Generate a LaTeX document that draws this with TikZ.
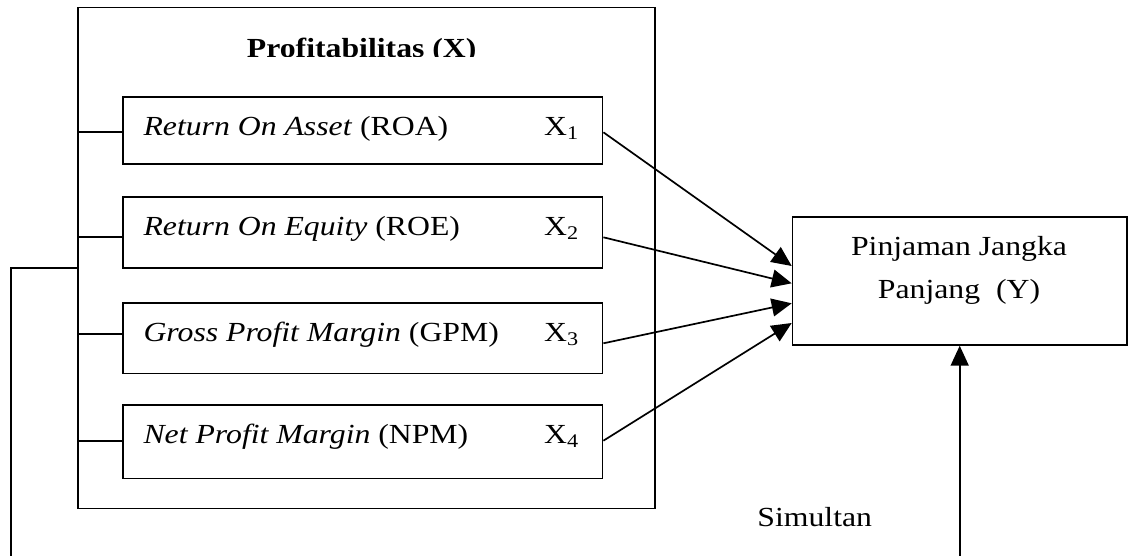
\documentclass[tikz,border=0pt]{standalone}
\usepackage{fontspec}
\setmainfont{Liberation Serif}[FakeStretch=1.15]
\usetikzlibrary{arrows.meta}
\begin{document}
\begin{tikzpicture}[x=1pt,y=-1pt,line width=1.7pt,
  box/.style={draw,line width=1.7pt,inner sep=0pt,anchor=north west},
  lbl/.style={anchor=base west,inner sep=0pt,font=\fontsize{27.6}{33}\selectfont},
  lblc/.style={anchor=base,inner sep=0pt,font=\fontsize{27.6}{33}\selectfont},
  arr/.style={-{Triangle[length=20pt,width=18pt]},line width=1.7pt}]
\useasboundingbox (0,0) rectangle (1134,555);
% outer box
\node[box,minimum width=576.7pt,minimum height=501pt] (outer) at (77.3,6.7) {};
\begin{scope}
\clip (78,0) rectangle (653,56.6);
\node[anchor=base,inner sep=0pt,font=\bfseries\fontsize{27.6}{33}\selectfont] (title) at (361.7,57.6) {Profitabilitas (X)};
\end{scope}
% inner boxes
\node[box,minimum width=479.7pt,minimum height=67pt] (b1) at (122,96) {};
\node[box,minimum width=479.7pt,minimum height=71pt] (b2) at (122,196) {};
\node[box,minimum width=479.7pt,minimum height=70.4pt] (b3) at (122,302.3) {};
\node[box,minimum width=479.7pt,minimum height=73.4pt] (b4) at (122,404.3) {};
\node[lbl] (t1) at (142.7,135) {\textit{Return On Asset} (ROA)};
\node[lbl] (t2) at (142.7,235.5) {\textit{Return On Equity} (ROE)};
\node[lbl] (t3) at (142.7,341.5) {\textit{Gross Profit Margin} (GPM)};
\node[lbl] (t4) at (142.7,443.3) {\textit{Net Profit Margin} (NPM)};
\node[lbl] (x1) at (543.3,135) {X\textsubscript{1}};
\node[lbl] (x2) at (543.3,235.5) {X\textsubscript{2}};
\node[lbl] (x3) at (543.3,341.5) {X\textsubscript{3}};
\node[lbl] (x4) at (543.3,443.3) {X\textsubscript{4}};
% Y box
\node[box,minimum width=334.3pt,minimum height=128pt] (y) at (791.7,216) {};
\node[lblc] (y1) at (959,255) {Pinjaman Jangka};
\node[lblc] (y2) at (959,298.3) {Panjang\ \ (Y)};
\node[lblc] (sim) at (814.7,526.7) {Simultan};
% connectors from outer box to inner boxes
\draw (outer.west |- 0,132.3) -- (b1.west |- 0,132.3);
\draw (outer.west |- 0,237.3) -- (b2.west |- 0,237.3);
\draw (outer.west |- 0,334.3) -- (b3.west |- 0,334.3);
\draw (outer.west |- 0,441) -- (b4.west |- 0,441);
% arrows to Y
\draw[arr] (b1.east |- 0,132.3) -- (y.west |- 0,266);
\draw[arr] (b2.east |- 0,237.3) -- (y.west |- 0,283.3);
\draw[arr] (b3.east |- 0,343.3) -- (y.west |- 0,303.3);
\draw[arr] (b4.east |- 0,440.7) -- (y.west |- 0,323);
% simultaneous line
\coordinate (lb) at (11,556);
\coordinate (rb) at (959,556);
\draw (outer.west |- 0,268.3) -| (lb);
\draw[arr] (y.south |- rb) -- (y.south);
\end{tikzpicture}
\end{document}
